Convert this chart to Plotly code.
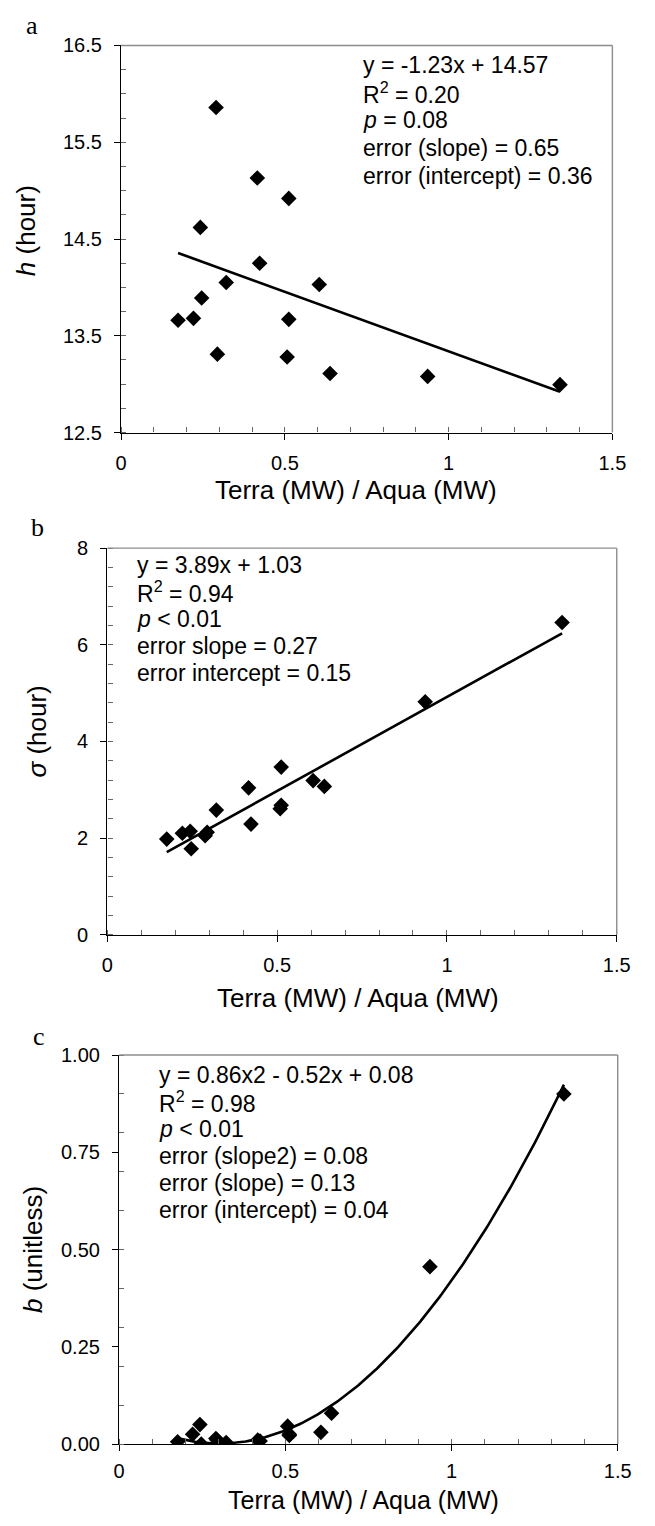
import numpy as np
import plotly.graph_objects as go

W, H = 655, 1526

# ---------------- data ----------------
xa = [0.174, 0.221, 0.242, 0.246, 0.290, 0.294, 0.321, 0.416, 0.423, 0.507, 0.512, 0.512, 0.605, 0.638, 0.936, 1.340]
ya = [13.66, 13.68, 14.62, 13.89, 15.86, 13.31, 14.05, 15.13, 14.25, 13.28, 14.92, 13.67, 14.03, 13.11, 13.08, 12.995]

xb = [0.175, 0.221, 0.244, 0.247, 0.288, 0.294, 0.321, 0.416, 0.423, 0.509, 0.512, 0.512, 0.606, 0.639, 0.936, 1.339]
yb = [1.98, 2.10, 2.14, 1.78, 2.05, 2.12, 2.58, 3.04, 2.29, 2.61, 2.68, 3.47, 3.19, 3.07, 4.82, 6.46]

xc = [0.176, 0.221, 0.243, 0.247, 0.291, 0.295, 0.322, 0.417, 0.424, 0.507, 0.512, 0.512, 0.607, 0.639, 0.935, 1.338]
yc = [0.006, 0.025, 0.050, 0.000, 0.014, 0.010, 0.004, 0.010, 0.008, 0.046, 0.025, 0.022, 0.030, 0.079, 0.456, 0.900]

fit_a = [-1.23, 14.57]
fit_b = [3.89, 1.03]
fit_c = [0.86, -0.52, 0.08]

text_a = ["y = -1.23x + 14.57", "R<sup>2</sup> = 0.20", "<i>p</i> = 0.08",
          "error (slope) = 0.65", "error (intercept) = 0.36"]
text_b = ["y = 3.89x + 1.03", "R<sup>2</sup> = 0.94", "<i>p</i> < 0.01",
          "error slope = 0.27", "error intercept = 0.15"]
text_c = ["y = 0.86x2 - 0.52x + 0.08", "R<sup>2</sup> = 0.98", "<i>p</i> < 0.01",
          "error (slope2) = 0.08", "error (slope) = 0.13", "error (intercept) = 0.04"]

x_title = "Terra (MW) / Aqua (MW)"
y_titles = ["<i>h</i> (hour)", "<i>σ</i> (hour)", "<i>b</i> (unitless)"]
panel_letters = ["a", "b", "c"]

# ---------------- layout helpers ----------------
def fx(p):
    return p / W

def fy(p):
    return 1 - p / H

SANS = "Liberation Sans, Arial, sans-serif"
SERIF = "Liberation Serif, Times New Roman, serif"
TICK = 20
NOTE = 23
TITLE = 26

# plot-area pixel boxes: (left, right, top, bottom)
boxes = [(118.7, 625.5, 35, 427.7), (104.5, 630, 545, 937.3), (116.7, 631, 1059.3, 1454)]
x_standoffs = [6, 6, 3]

fig = go.Figure()

panels = [
    (xa, ya, fit_a, "x", "y"),
    (xb, yb, fit_b, "x2", "y2"),
    (xc, yc, fit_c, "x3", "y3"),
]
for xs, ys, coef, xr, yr in panels:
    xx = np.linspace(min(xs), max(xs), 200)
    fig.add_trace(go.Scatter(x=xx, y=np.polyval(coef, xx), mode="lines",
                             line=dict(color="black", width=2.6),
                             xaxis=xr, yaxis=yr, showlegend=False, hoverinfo="skip"))
    fig.add_trace(go.Scatter(x=xs, y=ys, mode="markers",
                             marker=dict(symbol="diamond", size=12, color="black"),
                             xaxis=xr, yaxis=yr, showlegend=False))

yranges = [(12.5, 16.5, 1, 0.25, None), (0, 8, 2, 0.4, None), (0, 1, 0.25, 0.1, ".2f")]

for i, (box, yr) in enumerate(zip(boxes, yranges)):
    l, r, t, b = box
    sfx = "" if i == 0 else str(i + 1)
    xid = "x" + sfx
    yid = "y" + sfx
    fig.layout["xaxis" + sfx] = dict(
        domain=[fx(l), fx(r)], anchor=yid, range=[0, 1.5], dtick=0.5, tick0=0,
        showgrid=False, zeroline=False, showline=True, linecolor="black", linewidth=1.4,
        ticks="outside", ticklen=6, tickcolor="black", tickwidth=1,
        minor=dict(ticks="inside", dtick=0.1, tick0=0, ticklen=5, tickcolor="#666", tickwidth=1, showgrid=False),
        tickfont=dict(family=SANS, size=TICK, color="black"), ticklabelstandoff=x_standoffs[i],
    )
    lo, hi, dt, mdt, fmt = yr
    ydict = dict(
        domain=[fy(b), fy(t)], anchor=xid, range=[lo, hi], dtick=dt, tick0=lo,
        showgrid=False, zeroline=False, showline=True, linecolor="black", linewidth=1.4,
        ticks="outside", ticklen=6, tickcolor="black", tickwidth=1,
        minor=dict(ticks="inside", dtick=mdt, tick0=lo, ticklen=5, tickcolor="#666", tickwidth=1, showgrid=False),
        tickfont=dict(family=SANS, size=TICK, color="black"), ticklabelstandoff=8,
    )
    if fmt:
        ydict["tickformat"] = fmt
    fig.layout["yaxis" + sfx] = ydict
    # grey top/right border
    fig.add_shape(type="line", xref=xid + " domain", yref=yid + " domain",
                  x0=0, x1=1, y0=1, y1=1, line=dict(color="#8c8c8c", width=1.4))
    fig.add_shape(type="line", xref=xid + " domain", yref=yid + " domain",
                  x0=1, x1=1, y0=0, y1=1, line=dict(color="#8c8c8c", width=1.4))

annotations = []

def add_text(txt, px, py, size=NOTE, family=SANS, xanchor="left", angle=0):
    annotations.append(dict(text=txt, x=fx(px), y=fy(py), xref="paper", yref="paper",
                            xanchor=xanchor, yanchor="middle", showarrow=False,
                            textangle=angle, font=dict(family=family, size=size, color="black")))

# stats text
for j, line in enumerate(text_a):
    add_text(line, 366, 55 + j * 28)
for j, line in enumerate(text_b):
    add_text(line, 133, 562 + j * 27.5)
for j, line in enumerate(text_c):
    add_text(line, 156, 1080 + j * 27.3)

# panel letters
add_text(panel_letters[0], 27, 15, size=26, family=SERIF, xanchor="center")
add_text(panel_letters[1], 33, 524, size=26, family=SERIF, xanchor="center")
add_text(panel_letters[2], 34, 1041, size=26, family=SERIF, xanchor="center")

# axis titles
add_text(x_title, 361, 486, size=TITLE, xanchor="center")
add_text(x_title, 363, 1001, size=TITLE, xanchor="center")
add_text(x_title, 369, 1511, size=25, xanchor="center")
add_text(y_titles[0], 20, 223, size=TITLE, xanchor="center", angle=-90)
add_text(y_titles[1], 32, 731, size=TITLE, xanchor="center", angle=-90)
add_text(y_titles[2], 28, 1257, size=TITLE, xanchor="center", angle=-90)

fig.update_layout(width=W, height=H, margin=dict(l=0, r=0, t=0, b=0),
                  plot_bgcolor="white", paper_bgcolor="white",
                  annotations=annotations, showlegend=False)

fig.write_html("out.html", config={"displayModeBar": False},
               post_script="document.body.style.margin='0';")
